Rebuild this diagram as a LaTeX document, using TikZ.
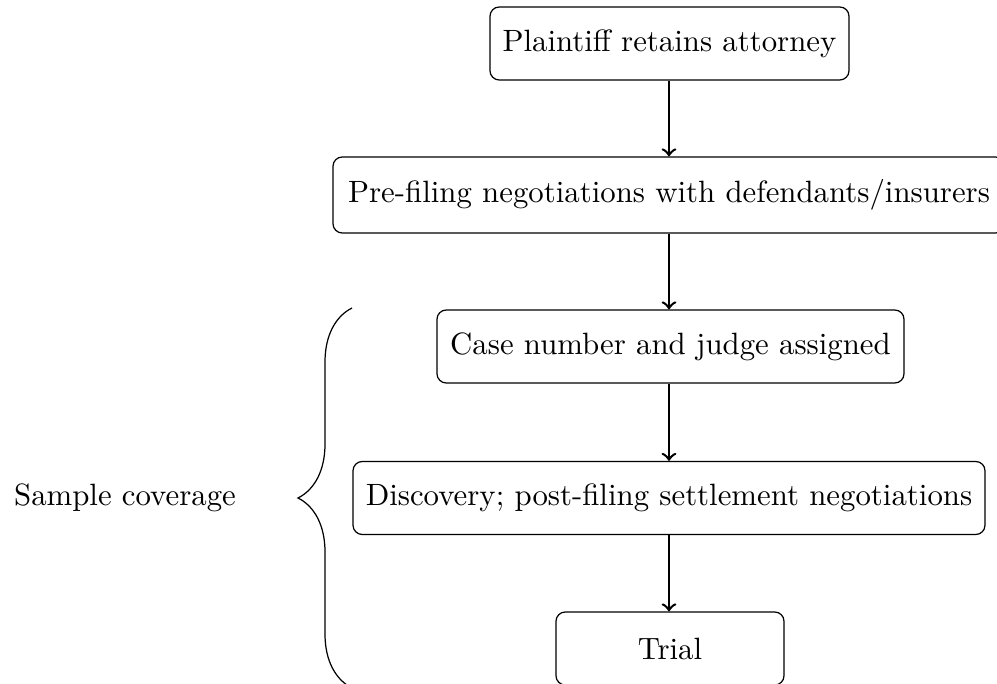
\documentclass[tikz,border=0pt]{standalone}
\usetikzlibrary{decorations.pathreplacing}
\begin{document}
\begin{tikzpicture}[x=0.3245pt,y=-0.3245pt,
  stepbox/.style={draw,rounded corners=3pt,inner xsep=0pt,inner ysep=0pt,align=center,minimum height=73*0.3245pt},
  flow/.style={->,thick}]
\useasboundingbox (0,0) rectangle (997,684);
\node[stepbox,minimum width=359*0.3245pt] (a) at (669.5,43.5) {Plaintiff retains attorney};
\node[stepbox,minimum width=672*0.3245pt,minimum height=76*0.3245pt] (b) at (669,195) {Pre-filing negotiations with defendants/insurers};
\node[stepbox,minimum width=467*0.3245pt] (c) at (670.5,346.5) {Case number and judge assigned};
\node[stepbox,minimum width=632*0.3245pt] (d) at (669,498) {Discovery; post-filing settlement negotiations};
\node[stepbox,minimum width=228*0.3245pt] (e) at (670,648.5) {Trial};
\draw[flow] (a.south -| 669,0) -- (b.north -| 669,0);
\draw[flow] (b.south -| 669,0) -- (c.north -| 669,0);
\draw[flow] (c.south -| 669,0) -- (d.north -| 669,0);
\draw[flow] (d.south -| 669,0) -- (e.north -| 669,0);
\coordinate (bb) at (352,688);
\coordinate (bt) at (352,308);
\draw[decorate,decoration={brace,amplitude=54*0.3245pt}] (bb) -- (bt);
\node (s) at (125,498) {Sample coverage};
\end{tikzpicture}
\end{document}
